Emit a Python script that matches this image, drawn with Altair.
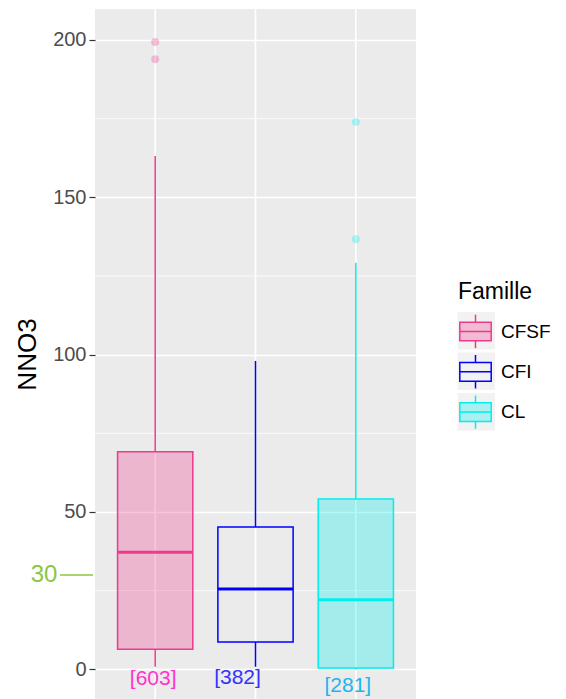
import altair as alt
import pandas as pd

# ---- data ----
familles = ["CFSF", "CFI", "CL"]
lower_whisker = [0.8, 0.8, 0.0]
q1 = [6.4, 8.7, 0.4]
medians = [37.2, 25.5, 22.1]
q3 = [69.1, 45.2, 54.1]
upper_whisker = [163.1, 98.0, 129.2]
outlier_famille = ["CFSF", "CFSF", "CL", "CL"]
outlier_nno3 = [199.4, 193.9, 173.9, 136.7]
count_labels = ["[603]", "[382]", "[281]"]
y_ticks = [0, 50, 100, 150, 200]
y_minor = [25, 75, 125, 175]
threshold = [30]

# ---- styles ----
stroke_colors = ["#EE3A8C", "#0000FF", "#00EEEE"]
fill_colors = ["rgba(238,58,140,0.3)", "rgba(0,0,0,0)", "rgba(0,238,238,0.3)"]
label_colors = ["#FF33CC", "#3333FF", "#1EB4F0"]
label_dx = [-2, -18, -8]
label_dy = [10, 9, 17]
FONT = "Liberation Sans"

bg_keys = [f + " key" for f in familles]

boxes = pd.DataFrame({
    "Famille": familles,
    "key": bg_keys,
    "lower": lower_whisker,
    "q1": q1,
    "median": medians,
    "q3": q3,
    "upper": upper_whisker,
    "label": count_labels,
})
outliers = pd.DataFrame({"Famille": outlier_famille, "NNO3": outlier_nno3})
minor_df = pd.DataFrame({"v": y_minor})
thr_df = pd.DataFrame({"v": threshold})

x_scale = alt.Scale(domain=familles, paddingInner=0.25, paddingOuter=0.225)
y_scale = alt.Scale(domain=[-9.44, 209.85], nice=False, zero=False)
y_axis = alt.Axis(
    values=y_ticks, title="NNO3", titleFontSize=26, titleFont=FONT,
    titleFontWeight="normal", titleColor="black", titlePadding=12,
    labelFontSize=20, labelFont=FONT, labelColor="#4D4D4D", labelPadding=3,
    tickSize=6, tickColor="#333333", tickWidth=1.2, domain=False,
    gridColor="white", gridWidth=1.6,
)

glyph = "M-0.94,-0.56H0.94V0.56H-0.94Z M-0.94,0H0.94 M0,-0.56V-1 M0,0.56V1"
main_legend = alt.Legend(
    title="Famille", orient="none", legendX=363, legendY=272,
    symbolType=glyph, symbolSize=1116, symbolStrokeWidth=1.5,
    titleFontSize=23, titleFont=FONT, titleFontWeight="normal", titleColor="black",
    titlePadding=10, labelFontSize=19, labelFont=FONT, labelColor="black",
    labelOffset=8, rowPadding=-0.7, padding=0, zindex=1,
)
bg_legend = alt.Legend(
    title=None, orient="none", legendX=362.3, legendY=302.7,
    symbolType="square", symbolSize=1406, symbolStrokeWidth=0,
    symbolFillColor="#F2F2F2", labelExpr="''", labelFontSize=10,
    rowPadding=2.5, padding=0, zindex=0,
)

X = alt.X("Famille:N", scale=x_scale, axis=None, sort=familles)
stroke_enc = alt.Stroke("Famille:N", scale=alt.Scale(domain=familles, range=stroke_colors), legend=main_legend)
fill_enc = alt.Fill("Famille:N", scale=alt.Scale(domain=familles, range=fill_colors), legend=main_legend)

base = alt.Chart(boxes)

minor_grid = alt.Chart(minor_df).mark_rule(color="white", strokeWidth=0.8).encode(
    y=alt.Y("v:Q", scale=y_scale, axis=y_axis)
)
v_grid = base.mark_rule(color="white", strokeWidth=1.6).encode(x=X)

bg_points = base.mark_point(filled=True, color="#F2F2F2", size=4, opacity=1).encode(
    x=X,
    y=alt.Y("median:Q", scale=y_scale, axis=y_axis),
    shape=alt.Shape("key:N", scale=alt.Scale(domain=bg_keys, range=["square"] * 3), legend=bg_legend),
)

whisk_low = base.mark_rule(strokeWidth=1.5).encode(
    x=X, y=alt.Y("lower:Q", scale=y_scale, axis=y_axis), y2="q1:Q", stroke=stroke_enc
)
whisk_high = base.mark_rule(strokeWidth=1.5).encode(
    x=X, y=alt.Y("q3:Q", scale=y_scale, axis=y_axis), y2="upper:Q", stroke=stroke_enc
)
box = base.mark_bar(strokeWidth=1.5).encode(
    x=X, y=alt.Y("q1:Q", scale=y_scale, axis=y_axis), y2="q3:Q",
    fill=fill_enc, stroke=stroke_enc,
)
median_line = base.mark_bar(strokeWidth=3, fill="transparent").encode(
    x=X, y=alt.Y("median:Q", scale=y_scale, axis=y_axis), y2="median:Q", stroke=stroke_enc
)
outlier_pts = alt.Chart(outliers).mark_circle(size=64, opacity=1).encode(
    x=X, y=alt.Y("NNO3:Q", scale=y_scale, axis=y_axis), fill=fill_enc
)

label_layers = []
for i, fam in enumerate(familles):
    label_layers.append(
        base.transform_filter(alt.datum.Famille == fam).mark_text(
            font=FONT, fontSize=21, color=label_colors[i], baseline="middle",
            align="center", dx=label_dx[i], dy=label_dy[i],
        ).encode(x=X, y=alt.datum(0, scale=y_scale), text="label:N")
    )

thr_text = alt.Chart(thr_df).mark_text(
    font=FONT, fontSize=24, color="#8CC63F", align="center", baseline="middle"
).encode(x=alt.value(-51), y=alt.Y("v:Q", scale=y_scale, axis=y_axis), text="v:Q")
thr_rule = alt.Chart(thr_df).mark_rule(color="#8CC63F", strokeWidth=1.5).encode(
    x=alt.value(-35), x2=alt.value(-2), y=alt.Y("v:Q", scale=y_scale, axis=y_axis)
)

chart = alt.layer(
    minor_grid, v_grid, bg_points, whisk_low, whisk_high, box, median_line,
    outlier_pts, *label_layers, thr_text, thr_rule,
).properties(
    width=321, height=690,
    autosize=alt.AutoSizeParams(type="none"),
    padding={"left": 87, "top": 1, "right": 142, "bottom": 0},
).configure_view(fill="#EBEBEB", strokeWidth=0)

chart.save("out.html", embed_options={"renderer": "svg", "actions": False})
